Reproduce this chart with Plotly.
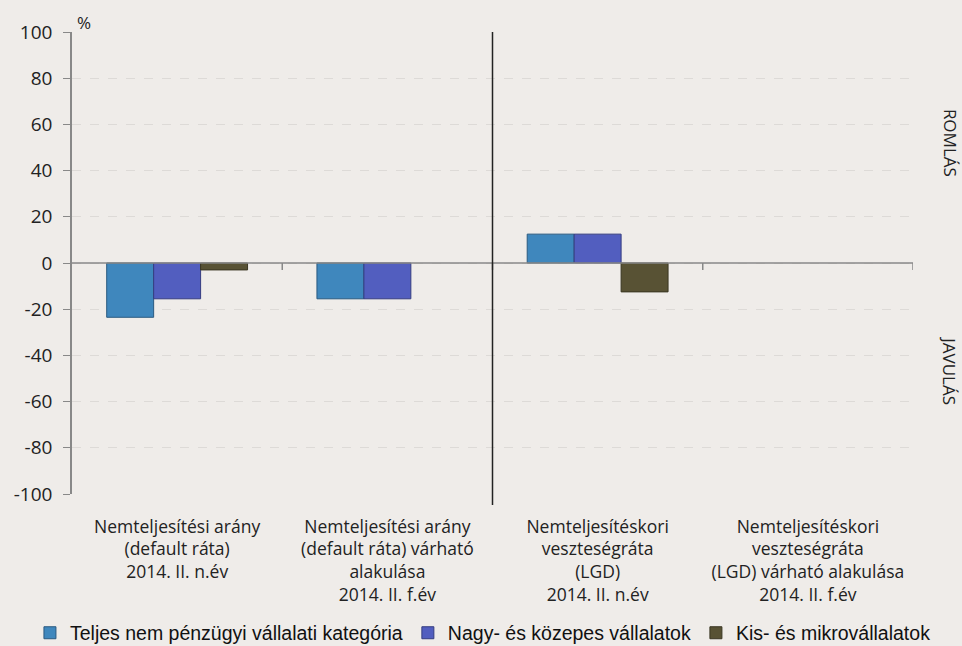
import plotly.graph_objects as go

categories = [
    "Nemteljesítési arány<br>(default ráta)<br>2014. II. n.év",
    "Nemteljesítési arány<br>(default ráta) várható<br>alakulása<br>2014. II. f.év",
    "Nemteljesítéskori<br>veszteségráta<br>(LGD)<br>2014. II. n.év",
    "Nemteljesítéskori<br>veszteségráta<br>(LGD) várható alakulása<br>2014. II. f.év",
]
series_names = [
    "Teljes nem pénzügyi vállalati kategória",
    "Nagy- és közepes vállalatok",
    "Kis- és mikrovállalatok",
]
teljes = [-23.5, -15.5, 12.5, None]
nagy = [-15.5, -15.5, 12.5, None]
kis = [-3, None, -12.5, None]
y_ticks = [-100, -80, -60, -40, -20, 0, 20, 40, 60, 80, 100]
y_ticktext = ["-100", "-80", "-60", "-40", "-20", "0", "20", "40", "60", "80", "100"]

colors = ["#3F87BD", "#525EBF", "#585234"]
edges = ["#2A5A80", "#353D80", "#3A3622"]

bg = "#EFECE9"
fig = go.Figure()
for name, vals, c, e in zip(series_names, [teljes, nagy, kis], colors, edges):
    fig.add_trace(go.Bar(
        x=list(range(len(categories))), y=vals, name=name,
        marker=dict(color=c, line=dict(color=e, width=1)),
    ))

fig.update_layout(
    width=962, height=646,
    paper_bgcolor=bg, plot_bgcolor=bg,
    margin=dict(l=72, r=49, t=32, b=152, autoexpand=False),
    barmode="group", bargap=0.33, bargroupgap=0,
    font=dict(family="Open Sans, Liberation Sans", color="#222222"),
    showlegend=True,
    legend=dict(orientation="h", x=-0.05, xanchor="left", y=-0.301, yanchor="middle",
                font=dict(family="Liberation Sans", size=19.5, color="#111111"),
                itemwidth=30, traceorder="normal", bgcolor="rgba(0,0,0,0)"),
    xaxis=dict(
        tickmode="array", tickvals=list(range(len(categories))), ticktext=categories,
        range=[-0.5, 3.5], showgrid=False, zeroline=False, showline=False,
        ticks="", tickfont=dict(size=17.5, color="#222222"), ticklabelstandoff=20,
    ),
    yaxis=dict(
        range=[-100, 100], tickvals=y_ticks, ticktext=y_ticktext,
        showline=True, linecolor="#888888", linewidth=1.5,
        ticks="outside", ticklen=7, tickcolor="#888888", ticklabelstandoff=7,
        showgrid=True, gridcolor="#DDDAD7", griddash="dash", gridwidth=1,
        zeroline=False, tickfont=dict(size=19, color="#222222"),
    ),
)

# zero axis line and category separators
fig.add_shape(type="line", xref="paper", yref="y", x0=0, x1=1, y0=0, y1=0,
              line=dict(color="#888888", width=1.5), layer="above")
for xb in [0.5, 1.5, 2.5, 3.5]:
    fig.add_shape(type="line", xref="x", yref="y", x0=xb, x1=xb, y0=0, y1=-3,
                  line=dict(color="#888888", width=1.5), layer="above")
# central divider
fig.add_shape(type="line", xref="x", yref="paper", x0=1.5, x1=1.5, y0=-0.024, y1=1,
              line=dict(color="#222222", width=1.5), layer="above")

fig.add_annotation(text="%", xref="paper", yref="paper", x=0.003, y=1.0216,
                   xanchor="left", yanchor="middle", showarrow=False,
                   font=dict(size=17, color="#222222"))
fig.add_annotation(text="ROMLÁS", xref="paper", yref="paper", x=1.044, y=0.76,
                   xanchor="center", yanchor="middle",
                   textangle=90, showarrow=False, font=dict(size=17, color="#222222"))
fig.add_annotation(text="JAVULÁS", xref="paper", yref="paper", x=1.044, y=0.268,
                   xanchor="center", yanchor="middle",
                   textangle=90, showarrow=False, font=dict(size=17, color="#222222"))

fig.write_html("out.html", config={"displayModeBar": False},
               post_script="document.body.style.margin='0';document.body.style.overflow='hidden';")
